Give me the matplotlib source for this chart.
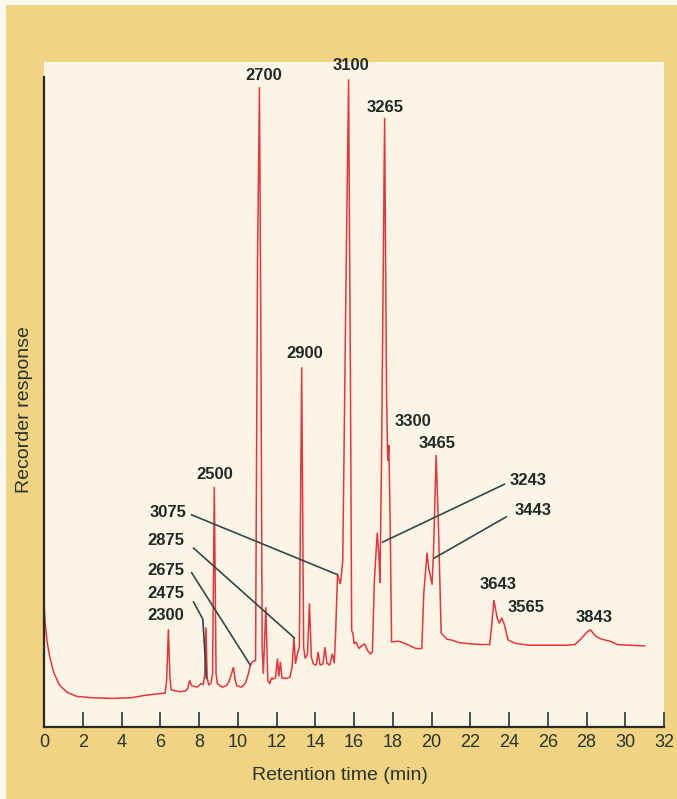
import matplotlib
matplotlib.use("Agg")
import matplotlib.pyplot as plt
from matplotlib.patches import Rectangle

plt.rcParams['font.family'] = ['Liberation Sans', 'DejaVu Sans']

# chromatogram trace: retention time (min), response (0-100)
times = [0.00, 0.05, 0.15, 0.30, 0.50, 0.80, 1.20, 1.70, 2.50, 3.50, 4.50, 5.30, 5.90, 6.25,
         6.33, 6.42, 6.50, 6.56, 7.00, 7.30, 7.42, 7.52, 7.62, 7.90, 8.10, 8.22, 8.30, 8.36,
         8.42, 8.50, 8.62, 8.70, 8.79, 8.88, 8.95, 9.20, 9.40, 9.55, 9.70, 9.78, 9.86, 9.95,
         10.20, 10.40, 10.55, 10.65, 10.75, 10.92, 11.02, 11.12, 11.20, 11.26, 11.32, 11.45,
         11.55, 11.65, 11.75, 11.82, 11.95, 12.05, 12.12, 12.20, 12.28, 12.50, 12.70, 12.80,
         12.90, 12.98, 13.08, 13.18, 13.30, 13.40, 13.48, 13.60, 13.70, 13.80, 13.90, 14.05,
         14.15, 14.25, 14.40, 14.50, 14.60, 14.75, 14.88, 14.98, 15.05, 15.15, 15.30, 15.42,
         15.60, 15.72, 15.82, 15.88, 15.95, 16.00, 16.10, 16.25, 16.40, 16.55, 16.70, 16.85,
         16.95, 17.05, 17.20, 17.28, 17.34, 17.42, 17.58, 17.68, 17.74, 17.80, 17.87, 17.94,
         18.30, 18.60, 18.90, 19.20, 19.50, 19.60, 19.77, 19.85, 20.03, 20.10, 20.24, 20.36,
         20.50, 20.80, 21.00, 21.40, 22.00, 22.60, 23.00, 23.10, 23.22, 23.38, 23.50, 23.62,
         23.75, 23.95, 24.30, 25.00, 26.00, 27.00, 27.40, 27.70, 28.00, 28.20, 28.50, 28.80,
         29.20, 29.60, 30.20, 31.00]
response = [19.0, 16.0, 13.0, 10.5, 8.2, 6.3, 5.2, 4.6, 4.4, 4.3, 4.4, 4.8, 5.0, 5.1,
            7.0, 14.7, 7.5, 5.6, 5.3, 5.4, 5.8, 7.0, 6.2, 6.0, 6.5, 6.4, 8.0, 15.0,
            7.5, 6.3, 6.6, 8.0, 36.1, 8.0, 6.5, 6.0, 6.2, 6.8, 8.2, 9.0, 7.2, 6.2,
            6.0, 6.6, 8.0, 9.3, 9.8, 10.0, 70.0, 96.2, 55.0, 12.0, 8.0, 18.0,
            7.0, 6.5, 7.4, 7.2, 7.4, 10.3, 7.6, 9.8, 7.4, 7.3, 7.5, 9.0,
            13.4, 9.5, 11.0, 12.0, 54.1, 12.0, 10.3, 11.0, 18.6, 10.5, 9.5, 9.3,
            11.3, 9.3, 9.5, 12.0, 9.6, 9.3, 11.0, 9.6, 14.0, 22.9, 21.5, 25.0,
            70.0, 97.4, 50.0, 14.5, 14.0, 12.5, 12.8, 11.8, 12.2, 12.5, 11.5, 11.0,
            11.3, 22.0, 29.2, 26.0, 21.7, 40.0, 91.6, 50.0, 40.0, 42.4, 30.0, 12.8,
            12.9, 12.6, 12.2, 11.8, 11.8, 20.0, 26.2, 24.0, 21.4, 26.0, 40.9, 30.0,
            14.1, 13.2, 13.1, 12.7, 12.5, 12.4, 12.4, 15.0, 19.1, 16.5, 15.6, 16.4,
            15.5, 13.1, 12.6, 12.3, 12.3, 12.3, 12.4, 13.2, 14.2, 14.6, 13.6, 13.2,
            12.9, 12.4, 12.3, 12.2]

# peak labels: text, x (min), y (response)
peak_labels = ["2300", "2475", "2675", "2875", "3075", "2500", "2700", "3100", "3265",
               "2900", "3300", "3465", "3243", "3443", "3643", "3565", "3843"]
label_x = [6.3, 6.3, 6.3, 6.3, 6.4, 8.79, 11.35, 15.82, 17.62,
           13.45, 19.05, 20.3, 24.98, 25.23, 23.45, 24.88, 28.4]
label_y = [16.8, 20.0, 23.6, 28.0, 32.2, 38.0, 98.0, 99.4, 93.2,
           56.1, 45.9, 42.7, 37.1, 32.5, 21.5, 17.9, 16.5]

# leader lines from a label to its peak
leaders = {
    "2475": ([7.72, 8.20, 8.38], [18.8, 16.2, 7.3]),
    "2675": ([7.62, 10.65], [23.2, 9.3]),
    "2875": ([7.72, 12.92], [26.9, 13.4]),
    "3075": ([7.62, 15.15], [31.9, 22.9]),
    "3243": ([23.76, 17.48], [36.5, 27.8]),
    "3443": ([23.86, 20.14], [31.6, 25.4]),
}

xticks = list(range(0, 33, 2))

gold = '#F1D384'
cream = '#FCF5E6'
ink = '#27342c'

fig = plt.figure(figsize=(6.77, 7.99), dpi=100, facecolor='#FBF8EE')
bg = Rectangle((6 / 677, 0), 1, 1 - 5 / 799, transform=fig.transFigure,
               facecolor=gold, edgecolor='none', zorder=-10)
fig.add_artist(bg)

ax = fig.add_axes([44 / 677, 72 / 799, 620 / 677, 665 / 799])
ax.set_zorder(1)
ax.set_facecolor(cream)
ax.plot(times, response, color='#E5353D', lw=1.1, solid_joinstyle='miter')

for name, (lx, ly) in leaders.items():
    ax.plot(lx, ly, color='#2E4A46', lw=1.2)

for txt, x, y in zip(peak_labels, label_x, label_y):
    ax.text(x, y, txt, ha='center', va='center', fontsize=12, fontweight='bold',
            color='#1f2a26', clip_on=False)

ax.set_xlim(0, 32)
ax.set_ylim(0, 100)
ax.set_xticks(xticks)
ax.set_xticklabels([str(t) for t in xticks], fontsize=13, color=ink)
ax.set_yticks([])
ax.tick_params(axis='x', direction='in', length=11, width=1.3, color='#2E4A46', pad=5)

for s in ['top', 'right']:
    ax.spines[s].set_visible(False)
ax.spines['left'].set_bounds(0, 97.7)
ax.spines['left'].set_color('#2a2a20')
ax.spines['left'].set_linewidth(1.6)
ax.spines['bottom'].set_color('#2a2a20')
ax.spines['bottom'].set_linewidth(1.6)

fig.text(340 / 677, 1 - 776 / 799, "Retention time (min)", ha='center', va='center',
         fontsize=14, color=ink)
fig.text(25 / 677, 1 - 410 / 799, "Recorder response", ha='center', va='center',
         rotation=90, fontsize=14, color=ink)

plt.savefig("out.png", dpi=100, facecolor=fig.get_facecolor())
